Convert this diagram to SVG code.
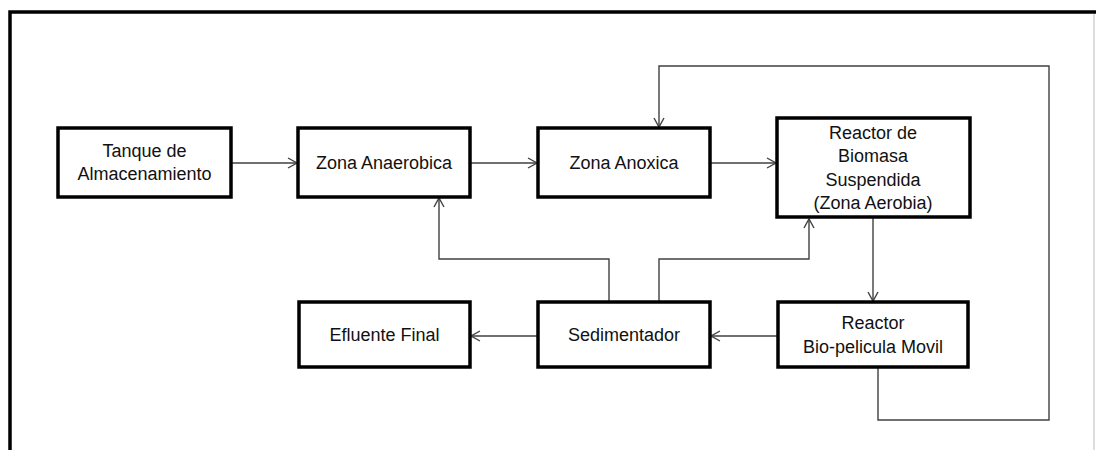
<svg xmlns="http://www.w3.org/2000/svg" width="1096" height="450" viewBox="0 0 1096 450">
<style>
.box{fill:#fff;stroke:#000;stroke-width:3.5}
.t{font-family:"Liberation Sans",Arial,sans-serif;font-size:18px;fill:#111;text-anchor:middle}
.c{fill:none;stroke:#404040;stroke-width:1.4}
</style>
<defs>
<marker id="ah" markerUnits="userSpaceOnUse" markerWidth="14" markerHeight="14" refX="10" refY="6" orient="auto">
<path d="M1,1 L10,6 L1,11" fill="none" stroke="#404040" stroke-width="1.4"/>
</marker>
</defs>
<rect width="1096" height="450" fill="#fff"/>
<g id="frame">
<path d="M10,450 L10,12 L1096,12" fill="none" stroke="#000" stroke-width="3.5"/>
<line x1="1094" y1="14" x2="1094" y2="450" stroke="#bbb" stroke-width="1"/>
</g>
<g id="connectors">
<line class="c" x1="231" y1="163" x2="297" y2="163" marker-end="url(#ah)"/>
<line class="c" x1="470" y1="163" x2="537" y2="163" marker-end="url(#ah)"/>
<line class="c" x1="710" y1="163" x2="776" y2="163" marker-end="url(#ah)"/>
<path class="c" d="M878,367 L878,420 L1049,420 L1049,66 L659,66 L659,127" marker-end="url(#ah)"/>
<line class="c" x1="873" y1="218" x2="873" y2="301" marker-end="url(#ah)"/>
<line class="c" x1="778" y1="336" x2="711" y2="336" marker-end="url(#ah)"/>
<line class="c" x1="538" y1="336" x2="471" y2="336" marker-end="url(#ah)"/>
<path class="c" d="M609,302 L609,259 L439,259 L439,198" marker-end="url(#ah)"/>
<path class="c" d="M659,302 L659,259 L809,259 L809,219" marker-end="url(#ah)"/>
</g>
<g id="tanque">
<rect class="box" x="58" y="128" width="173" height="69"/>
<text class="t" x="144.5" y="157">Tanque de</text>
<text class="t" x="144.5" y="180">Almacenamiento</text>
</g>
<g id="anaerobica">
<rect class="box" x="298" y="128" width="172" height="69"/>
<text class="t" x="384" y="169">Zona Anaerobica</text>
</g>
<g id="anoxica">
<rect class="box" x="538" y="128" width="172" height="69"/>
<text class="t" x="624" y="169">Zona Anoxica</text>
</g>
<g id="biomasa">
<rect class="box" x="777" y="118" width="193" height="99"/>
<text class="t" x="873" y="139">Reactor de</text>
<text class="t" x="873" y="162">Biomasa</text>
<text class="t" x="873" y="186">Suspendida</text>
<text class="t" x="873" y="209">(Zona Aerobia)</text>
</g>
<g id="efluente">
<rect class="box" x="299" y="302" width="171" height="65"/>
<text class="t" x="384.5" y="341">Efluente Final</text>
</g>
<g id="sedimentador">
<rect class="box" x="538" y="302" width="172" height="65"/>
<text class="t" x="624" y="341">Sedimentador</text>
</g>
<g id="biopelicula">
<rect class="box" x="778" y="302" width="190" height="65"/>
<text class="t" x="873" y="329">Reactor</text>
<text class="t" x="873" y="353">Bio-pelicula Movil</text>
</g>
</svg>
